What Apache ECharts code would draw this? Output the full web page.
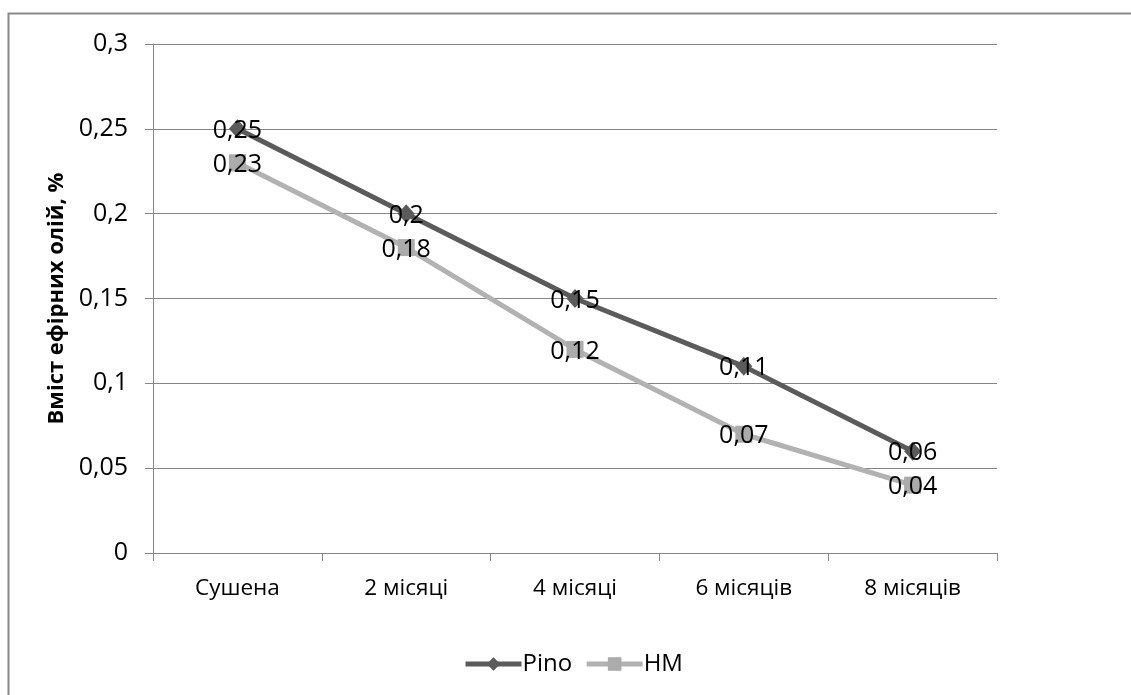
<!DOCTYPE html>
<html>
<head>
<meta charset="utf-8">
<script src="https://cdn.jsdelivr.net/npm/echarts@6/dist/echarts.min.js"></script>
<style>
  html, body { margin: 0; padding: 0; background: #fff; }
  #chart { width: 1131px; height: 695px; }
</style>
</head>
<body>
<div id="chart"></div>
<script>
const categories = ['Сушена', '2 місяці', '4 місяці', '6 місяців', '8 місяців'];
const pinoValues = [0.25, 0.2, 0.15, 0.11, 0.06];
const hmValues = [0.23, 0.18, 0.12, 0.07, 0.04];
const seriesNames = ['Pino', 'HM'];
const yAxisTitle = 'Вміст ефірних олій, %';

const FONT = '"Open Sans", "Noto Sans", sans-serif';
const comma = v => String(+(+v).toFixed(2)).replace('.', ',');

const chart = echarts.init(document.getElementById('chart'), null, { renderer: 'canvas' });

const labelStyle = {
  show: true,
  position: 'inside',
  offset: [0, 2],
  color: '#000',
  fontFamily: FONT,
  fontSize: 25,
  formatter: p => comma(p.value)
};

chart.setOption({
  animation: false,
  backgroundColor: '#fff',
  graphic: [{
    type: 'rect',
    shape: { x: 8.5, y: 13.5, width: 1400, height: 900 },
    style: { fill: 'none', stroke: '#898989', lineWidth: 2 },
    silent: true
  }],
  grid: { left: 153, right: 134, top: 44, bottom: 142, containLabel: false },
  legend: {
    bottom: 14,
    left: 458,
    itemWidth: 56,
    itemHeight: 17,
    itemGap: 12,
    lineStyle: { width: 5 },
    textStyle: { fontFamily: FONT, fontSize: 24, color: '#000', padding: [0, 0, 0, -4] },
    data: seriesNames
  },
  xAxis: {
    type: 'category',
    data: categories,
    boundaryGap: true,
    axisLine: { lineStyle: { color: '#868686', width: 1 } },
    axisTick: { show: true, length: 8, lineStyle: { color: '#868686' } },
    axisLabel: { color: '#000', fontFamily: FONT, fontSize: 22.5, margin: 24 }
  },
  yAxis: {
    type: 'value',
    min: 0,
    max: 0.3,
    interval: 0.05,
    name: yAxisTitle,
    nameLocation: 'middle',
    nameGap: 84,
    nameTextStyle: { fontFamily: FONT, fontSize: 22, fontWeight: 'bold', color: '#000' },
    axisLine: { show: true, lineStyle: { color: '#868686', width: 1 } },
    axisTick: { show: true, length: 8, lineStyle: { color: '#868686' } },
    splitLine: { show: true, lineStyle: { color: '#868686', width: 1 } },
    axisLabel: { color: '#000', fontFamily: FONT, fontSize: 25, margin: 25, formatter: v => comma(v) }
  },
  series: [
    {
      name: seriesNames[0],
      type: 'line',
      data: pinoValues,
      symbol: 'diamond',
      symbolSize: [17, 19],
      lineStyle: { color: '#5B5B5B', width: 5 },
      itemStyle: { color: '#5B5B5B' },
      label: labelStyle,
      z: 3
    },
    {
      name: seriesNames[1],
      type: 'line',
      data: hmValues,
      symbol: 'rect',
      symbolSize: 17,
      lineStyle: { color: '#B2B2B2', width: 5 },
      itemStyle: { color: '#ABABAB' },
      label: labelStyle,
      z: 2
    }
  ]
});
</script>
</body>
</html>
